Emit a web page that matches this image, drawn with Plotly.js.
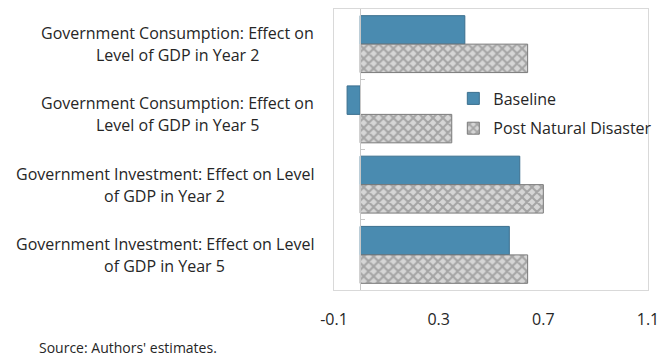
<!DOCTYPE html>
<html>
<head>
<meta charset="utf-8">
<script src="https://cdn.plot.ly/plotly-3.0.1.min.js"></script>
<style>
  html, body { margin: 0; padding: 0; background: #fff; }
  #chart { width: 663px; height: 356px; }
</style>
</head>
<body>
<div id="chart"></div>
<script>
// Effect of fiscal measures on the level of GDP (percent)
const categories = [
  "Government Consumption: Effect on Level of GDP in Year 2",
  "Government Consumption: Effect on Level of GDP in Year 5",
  "Government Investment: Effect on Level of GDP in Year 2",
  "Government Investment: Effect on Level of GDP in Year 5"
];
const labelTop = [
  "Government Consumption: Effect on",
  "Government Consumption: Effect on",
  "Government Investment: Effect on Level",
  "Government Investment: Effect on Level"
];
const labelBottom = [
  "Level of GDP in Year 2",
  "Level of GDP in Year 5",
  "of GDP in Year 2",
  "of GDP in Year 5"
];
const baseline = [0.40, -0.05, 0.61, 0.57];
const postDisaster = [0.64, 0.35, 0.70, 0.64];
const tickVals = [-0.1, 0.3, 0.7, 1.1];
const tickText = ["-0.1", "0.3", "0.7", "1.1"];
const innerTicks = [0.3, 0.7];
const sourceNote = "Source: Authors' estimates.";

const FONT = "Open Sans, Noto Sans, sans-serif";
const TEXT = "#262626";
const LABEL_SIZE = 16;
const xRange = [-0.1, 1.1];

const traces = [
  {
    type: "bar", orientation: "h", name: "Baseline",
    y: categories, x: baseline,
    legendgroup: "a",
    marker: { color: "#4a8bb0", line: { color: "#3b6f8e", width: 1 } },
    hoverinfo: "x+name"
  },
  {
    type: "bar", orientation: "h", name: "Post Natural Disaster",
    y: categories, x: postDisaster,
    legendgroup: "b",
    marker: {
      color: "#d0d0d0",
      line: { color: "#7a7a7a", width: 1 },
      pattern: { shape: "x", fgcolor: "#a4a4a4", bgcolor: "#d6d6d6", size: 7, solidity: 0.5 }
    },
    hoverinfo: "x+name"
  },
  // carries the zero-line axis with its boundary ticks
  {
    type: "bar", orientation: "h", y: categories, x: baseline.map(() => 0),
    yaxis: "y2", xaxis: "x", showlegend: false, hoverinfo: "skip",
    marker: { color: "rgba(0,0,0,0)" }
  }
];

// two-line category labels, each pair centered on a shared right edge
const annotations = [];
categories.forEach((c, i) => {
  [[labelTop[i], 11], [labelBottom[i], -11]].forEach(([t, dy]) => {
    annotations.push({
      xref: "paper", yref: "y", x: 0, y: c, xanchor: "center", yanchor: "middle",
      xshift: -20, yshift: dy, showarrow: false, align: "center",
      text: t, font: { family: FONT, size: LABEL_SIZE, color: TEXT }
    });
  });
});
annotations.push({
  xref: "paper", yref: "paper", x: -0.946, y: -0.206, xanchor: "left", yanchor: "middle",
  showarrow: false, text: sourceNote, font: { family: FONT, size: 14, color: TEXT }
});

const layout = {
  width: 663, height: 356,
  margin: { l: 334, r: 15, t: 9, b: 66, pad: 0, autoexpand: false },
  paper_bgcolor: "#fff", plot_bgcolor: "#fff",
  font: { family: FONT, size: 14, color: TEXT },
  barmode: "group", bargap: 0.19, bargroupgap: 0,
  showlegend: true,
  legend: {
    x: 0.38, y: 0.742, xanchor: "left", yanchor: "top",
    bgcolor: "rgba(0,0,0,0)", borderwidth: 0,
    font: { family: FONT, size: 16, color: TEXT },
    traceorder: "grouped", tracegroupgap: 6
  },
  xaxis: {
    range: xRange, tickvals: tickVals, ticktext: tickText,
    showgrid: false, zeroline: false, automargin: false,
    ticks: "outside", ticklen: 15, tickcolor: "rgba(0,0,0,0)",
    showline: true, mirror: true, linecolor: "#d9d9d9", linewidth: 1,
    tickfont: { family: FONT, size: 16, color: TEXT }, fixedrange: true
  },
  xaxis2: {
    overlaying: "x", side: "top", anchor: "y", matches: "x",
    range: xRange, tickvals: innerTicks, showticklabels: false,
    ticks: "inside", ticklen: 5, tickcolor: "#d0d0d0", tickwidth: 1,
    showgrid: false, zeroline: false, showline: false
  },
  yaxis: {
    type: "category", categoryarray: categories, autorange: "reversed",
    showticklabels: false, ticks: "", showgrid: false, zeroline: false,
    showline: true, mirror: true, linecolor: "#d9d9d9", linewidth: 1, fixedrange: true
  },
  yaxis2: {
    type: "category", categoryarray: categories, autorange: "reversed",
    overlaying: "y", anchor: "free", side: "left",
    position: (0 - xRange[0]) / (xRange[1] - xRange[0]),
    showticklabels: false, ticks: "inside", tickson: "boundaries",
    ticklen: 4, tickcolor: "#c8c8c8", tickwidth: 1,
    showline: true, linecolor: "#c8c8c8", linewidth: 1,
    showgrid: false, zeroline: false
  },
  annotations: annotations
};

const labelRight = -20;
Plotly.newPlot("chart", traces, layout, { displayModeBar: false, staticPlot: true }).then(gd => {
  const ctx = document.createElement("canvas").getContext("2d");
  ctx.font = LABEL_SIZE + "px 'Open Sans'";
  const anns = gd.layout.annotations.slice();
  for (let i = 0; i < categories.length; i++) {
    const w = Math.max(ctx.measureText(labelTop[i]).width, ctx.measureText(labelBottom[i]).width);
    anns[2 * i].xshift = labelRight - w / 2;
    anns[2 * i + 1].xshift = labelRight - w / 2;
  }
  Plotly.relayout(gd, { annotations: anns });
});
</script>
</body>
</html>
